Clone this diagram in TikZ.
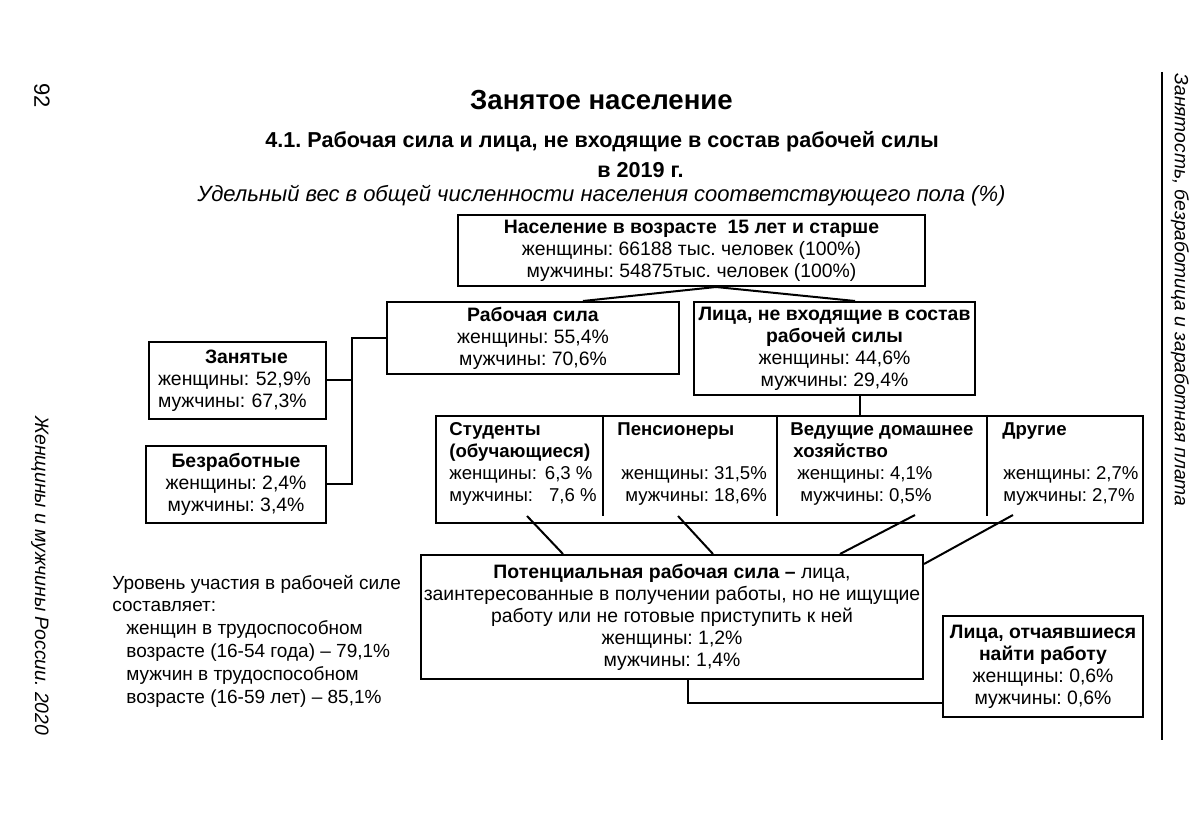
\documentclass[tikz,border=0pt]{standalone}
\usepackage{fontspec}
\setmainfont{Liberation Sans}
\usetikzlibrary{calc}
\frenchspacing
\newdimen\pxu \pxu=0.5pt
\newcommand\fb{\fontsize{9.7}{11}\selectfont}
\newcommand\fc{\fontsize{9.3}{10.9}\selectfont}
\begin{document}
\frenchspacing
\begin{tikzpicture}[x=0.5pt,y=-0.5pt,
  box/.style={draw,line width=1pt,inner sep=0pt,align=center,font=\fb},
  conn/.style={line width=1pt},
  txt/.style={inner sep=0pt,font=\fc}]
\useasboundingbox[fill=white] (0,0) rectangle (1200,823);

% titles
\node[inner sep=0pt,font=\fontsize{13.8}{15}\selectfont\bfseries] (t1) at (601.5,100) {Занятое население};
\node[inner sep=0pt,font=\fontsize{10.8}{12}\selectfont\bfseries] (t2) at (602,142) {4.1. Рабочая сила и лица, не входящие в состав рабочей силы};
\node[inner sep=0pt,font=\fontsize{10.8}{12}\selectfont\bfseries] (t3) at (640.5,170) {в 2019 г.};
\node[inner sep=0pt,font=\fontsize{11}{13}\selectfont\itshape] (t4) at (601.5,196) {Удельный вес в общей численности населения соответствующего пола (\%)};

% margins
\node[inner sep=0pt,rotate=-90,font=\fontsize{11}{13}\selectfont] (pg) at (42,96) {92};
\node[inner sep=0pt,rotate=-90,font=\fontsize{9.7}{12}\selectfont\itshape] (bk) at (40,576) {Женщины и мужчины России. 2020};
\node[inner sep=0pt,rotate=-90,font=\fontsize{9.6}{12}\selectfont\itshape] (ch) at (1180,290) {Занятость, безработица и заработная плата};
\coordinate (r1) at (1162,72);
\coordinate (r2) at (1162,740);
\draw[conn] (r1) -- (r2);

% boxes
\node[box,minimum width=467*\pxu,minimum height=71*\pxu] (pop) at (691.5,250.5)
  {\textbf{Население в возрасте\ \ 15 лет и старше}\\ женщины: 66188 тыс. человек (100\%)\\ мужчины: 54875тыс. человек (100\%)};
\node[box,minimum width=292*\pxu,minimum height=72*\pxu] (lf) at (533,338)
  {\textbf{Рабочая сила}\\ женщины: 55,4\%\\ мужчины: 70,6\%};
\node[box,minimum width=281*\pxu,minimum height=93*\pxu] (nlf) at (834.5,348.5)
  {\textbf{Лица, не входящие в состав}\\ \textbf{рабочей силы}\\ женщины: 44,6\%\\ мужчины: 29,4\%};
\node[box,align=left,text width=159*\pxu,inner xsep=9*\pxu,minimum height=77*\pxu] (emp) at (237.5,380.5)
  {\hspace*{47\pxu}\textbf{Занятые}\\ женщины: 52,9\%\\ мужчины: 67,3\%};
\node[box,minimum width=180*\pxu,minimum height=77*\pxu] (unemp) at (236,484.5)
  {\textbf{Безработные}\\ женщины: 2,4\%\\ мужчины: 3,4\%};
\node[box,minimum width=707*\pxu,minimum height=107*\pxu] (cat) at (789.5,469.5) {};
\node[box,minimum width=502*\pxu,minimum height=124*\pxu] (pot) at (672,617)
  {\textbf{Потенциальная рабочая сила –} лица,\\ заинтересованные в получении работы, но не ищущие\\ работу или не готовые приступить к ней\\ женщины: 1,2\%\\ мужчины: 1,4\%};
\node[box,minimum width=200*\pxu,minimum height=101*\pxu] (desp) at (1043,666.5)
  {\textbf{Лица, отчаявшиеся}\\ \textbf{найти работу}\\ женщины: 0,6\%\\ мужчины: 0,6\%};

% category dividers
\foreach \xx in {603,777,987}{
  \draw[conn] (\xx,0 |- cat.north) -- (\xx,516);
}

% category texts
\node[txt,anchor=base west] (s1) at (449,436) {\begin{tabular}[t]{@{}l@{}}\textbf{Студенты}\\ \textbf{(обучающиеся)}\\ женщины:\hspace{4pt}6,3 \%\\ мужчины:\hspace{8pt}7,6 \%\end{tabular}};
\node[txt,anchor=base west] (s2) at (617,436) {\begin{tabular}[t]{@{}l@{}}\textbf{Пенсионеры}\\ \mbox{}\\ \hspace*{2pt}женщины: 31,5\%\\ \hspace*{4pt}мужчины: 18,6\%\end{tabular}};
\node[txt,anchor=base west] (s3) at (790,436) {\begin{tabular}[t]{@{}l@{}}\textbf{Ведущие домашнее}\\ \hspace*{1.5pt}\textbf{хозяйство}\\ \hspace*{3.5pt}женщины: 4,1\%\\ \hspace*{5pt}мужчины: 0,5\%\end{tabular}};
\node[txt,anchor=base west] (s4) at (1002,436) {\begin{tabular}[t]{@{}l@{}}\textbf{Другие}\\ \mbox{}\\ \hspace*{0.5pt}женщины: 2,7\%\\ \hspace*{0.5pt}мужчины: 2,7\%\end{tabular}};

% left note
\node[inner sep=0pt,anchor=base west,font=\fontsize{9.5}{11.4}\selectfont] (note) at (112,589)
  {\begin{tabular}[t]{@{}l@{}}Уровень участия в рабочей силе\\ составляет:\\ \hspace*{7pt}женщин в трудоспособном\\ \hspace*{7pt}возрасте (16-54 года) – 79,1\%\\ \hspace*{7pt}мужчин в трудоспособном\\ \hspace*{7pt}возрасте (16-59 лет) – 85,1\%\end{tabular}};

% connectors
\coordinate (popj) at (716,0 |- pop.south);
\draw[conn] (popj) -- (583,0 |- lf.north);
\draw[conn] (popj) -- (855,0 |- nlf.north);
\coordinate (jx) at (352,0);
\draw[conn] (lf.west) -- (lf.west -| jx) -- (unemp.east -| jx) -- (unemp.east);
\draw[conn] (emp.east) -- (emp.east -| jx);
\draw[conn] (860,0 |- nlf.south) -- (860,0 |- cat.north);
\coordinate (c1) at (527,516);
\coordinate (c2) at (678,516);
\coordinate (c3) at (915,515);
\coordinate (c4) at (1013,515);
\draw[conn] (c1) -- (563,0 |- pot.north);
\draw[conn] (c2) -- (713,0 |- pot.north);
\draw[conn] (c3) -- (840,0 |- pot.north);
\draw[conn] (c4) -- (pot.east |- 0,564);
\draw[conn] (688,0 |- pot.south) |- (desp.west |- 0,703);
\end{tikzpicture}
\end{document}
